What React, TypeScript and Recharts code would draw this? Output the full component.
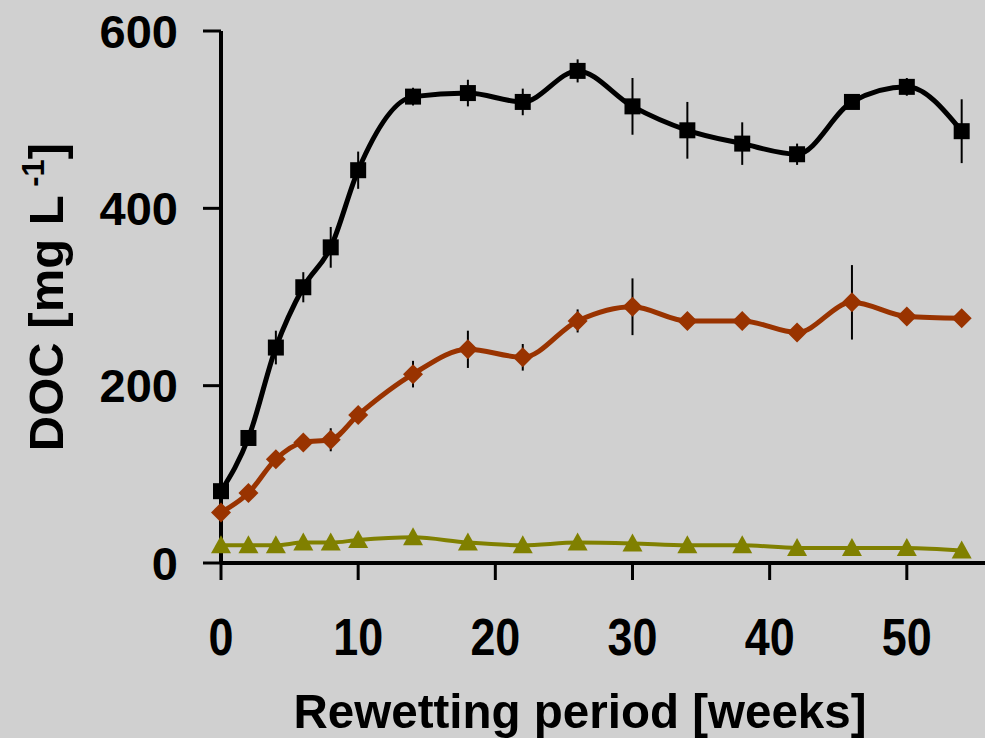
import React from "react";
import { LineChart, Line, XAxis, YAxis, ErrorBar, Label } from "recharts";

const weeks = [0, 2, 4, 6, 8, 10, 14, 18, 22, 26, 30, 34, 38, 42, 46, 50, 54];
const blackDoc = [81, 141, 243, 311, 356, 443, 526, 530, 520, 555, 515, 488, 473, 461, 520, 537, 487];
const blackErr = [0, 5, 19, 17, 23, 21, 10, 15, 15, 13, 32, 32, 24, 12, 5, 10, 36];
const redDoc = [57, 79, 117, 136, 139, 167, 213, 241, 232, 273, 289, 273, 273, 260, 294, 278, 276];
const redErr = [0, 0, 0, 0, 13, 0, 15, 21, 15, 13, 32, 5, 0, 0, 42, 0, 0];
const greenDoc = [20, 20, 20, 23, 23, 26, 29, 23, 20, 23, 22, 20, 20, 17, 17, 17, 14];
const xTicks = [0, 10, 20, 30, 40, 50];
const yTicks = [0, 200, 400, 600];

const data = weeks.map((w, i) => ({
  week: w,
  black: blackDoc[i],
  blackErr: blackErr[i],
  red: redDoc[i],
  redErr: redErr[i],
  green: greenDoc[i],
}));

const font = "'Liberation Sans', Arial, sans-serif";
const tickStyle = { fill: "#000", fontSize: 47, fontWeight: "bold", fontFamily: font };

// x tick labels in the source are a little taller than they are wide
const XTick = (p: any) => (
  <g transform={`translate(${p.x},${p.y})`}>
    <text x={0} y={33} transform="scale(0.88,1)" textAnchor="middle" fill="#000" fontSize={51} fontWeight="bold" fontFamily={font}>
      {p.payload.value}
    </text>
  </g>
);

const Square = (p: any) => (
  <rect key={"s" + p.index} x={p.cx - 8} y={p.cy - 8} width={16} height={16} fill="#000" />
);
const Diamond = (p: any) => (
  <polygon
    key={"d" + p.index}
    points={`${p.cx},${p.cy - 10} ${p.cx + 10},${p.cy} ${p.cx},${p.cy + 10} ${p.cx - 10},${p.cy}`}
    fill="#993300"
  />
);
const Triangle = (p: any) => (
  <polygon
    key={"t" + p.index}
    points={`${p.cx},${p.cy - 10} ${p.cx + 10},${p.cy + 8} ${p.cx - 10},${p.cy + 8}`}
    fill="#808000"
  />
);

export default function App() {
  return (
    <div style={{ position: "absolute", left: 0, top: 0, width: 985, height: 738, background: "#d0d0d0" }}>
      <LineChart width={985} height={738} data={data} margin={{ top: 31, right: 0, bottom: 0, left: 0 }}>
        <XAxis
          dataKey="week"
          type="number"
          domain={[0, 55.7]}
          ticks={xTicks}
          height={175}
          tickSize={17}
          tickMargin={42}
          tick={XTick}
          axisLine={{ stroke: "#000", strokeWidth: 4 }}
          tickLine={{ stroke: "#000", strokeWidth: 3 }}
        >
          <Label
            content={() => (
              <text
                x={580}
                y={728}
                textAnchor="middle"
                fill="#000"
                fontSize={49}
                fontWeight="bold"
                fontFamily={font}
                textLength={573}
                lengthAdjust="spacingAndGlyphs"
              >
                Rewetting period [weeks]
              </text>
            )}
          />
        </XAxis>
        <YAxis
          type="number"
          domain={[0, 600]}
          ticks={yTicks}
          width={221}
          tickSize={18}
          tickMargin={25}
          tick={tickStyle}
          axisLine={{ stroke: "#000", strokeWidth: 4 }}
          tickLine={{ stroke: "#000", strokeWidth: 3 }}
        >
          <Label
            content={() => (
              <text
                x={63}
                y={297}
                transform="rotate(-90, 63, 297)"
                textAnchor="middle"
                fill="#000"
                fontSize={49}
                fontWeight="bold"
                fontFamily={font}
              >
                DOC [mg L
                <tspan fontSize={31} dy={-19}> -1</tspan>
                <tspan dy={19}>]</tspan>
              </text>
            )}
          />
        </YAxis>
        <Line
          dataKey="green"
          type="monotone"
          stroke="#808000"
          strokeWidth={4}
          dot={Triangle}
          activeDot={false}
          isAnimationActive={false}
        />
        <Line
          dataKey="red"
          type="monotone"
          stroke="#993300"
          strokeWidth={5}
          dot={Diamond}
          activeDot={false}
          isAnimationActive={false}
        >
          <ErrorBar dataKey="redErr" width={0} stroke="#000" strokeWidth={2} direction="y" />
        </Line>
        <Line
          dataKey="black"
          type="monotone"
          stroke="#000"
          strokeWidth={5}
          dot={Square}
          activeDot={false}
          isAnimationActive={false}
        >
          <ErrorBar dataKey="blackErr" width={0} stroke="#000" strokeWidth={2} direction="y" />
        </Line>
      </LineChart>
    </div>
  );
}
